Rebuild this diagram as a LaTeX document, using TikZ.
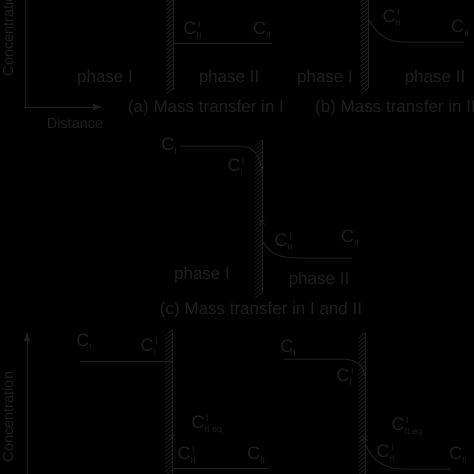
\documentclass[tikz,border=0pt]{standalone}
\usepackage{fontspec}
\setmainfont{Liberation Sans}
\usetikzlibrary{arrows.meta}
\definecolor{ink}{RGB}{30,30,30}
\newcommand{\Clab}[2]{C\rlap{\raisebox{-3.5pt}{\fontsize{9}{9}\selectfont #1}}\raisebox{7pt}{\fontsize{9}{9}\selectfont\,#2}}
\newcommand{\Cs}[1]{C\raisebox{-3.5pt}{\fontsize{9}{9}\selectfont #1}}
\tikzset{
  ln/.style={draw=ink, line width=1pt},
  txt/.style={text=ink, font=\fontsize{17}{17}\selectfont, inner sep=0pt},
  axtxt/.style={text=ink, font=\fontsize{14.5}{14.5}\selectfont, inner sep=0pt},
  clab/.style={text=ink, font=\fontsize{18}{18}\selectfont, inner sep=0pt},
  hatch/.style={draw=ink, line width=0.7pt},
}
\newcommand{\iface}[3]{%
  \draw[ln] (#1,#2) -- (#1,#3);
  \pgfmathtruncatemacro{\ysec}{#2+4}%
  \foreach \yy in {#2,\ysec,...,#3}{\draw[hatch] (#1-7,\yy+6) -- (#1,\yy);}
}
\newcommand{\crossmark}[2]{\draw[ink, line width=0.8pt] (#1-2.5,#2-2.5) -- (#1+2.5,#2+2.5) (#1-2.5,#2+2.5) -- (#1+2.5,#2-2.5);}
\begin{document}
\begin{tikzpicture}[x=1pt,y=-1pt]
\fill[black] (0,0) rectangle (474,474);
\useasboundingbox (0,0) rectangle (474,474);
\begin{scope}
\clip (0,0) rectangle (474,474);
% ---------- (a) ----------
\coordinate (ao) at (25,107);
\coordinate (atop) at (25,-2);
\coordinate (aend) at (102,107);
\draw[ln] (atop) -- (ao);
\draw[ln, -{Latex[length=9pt,width=7pt]}] (ao) -- (aend);
\node[axtxt, rotate=90] (conc1) at (8,31) {Concentration};
\node[axtxt] (dist) at (75,123) {Distance};
\iface{173}{-4}{90}
\coordinate (a1) at (174,43);
\coordinate (a2) at (272,43);
\draw[ln] (a1) -- (a2);
\node[clab] (aCi) at (192,30) {\Clab{II}{I}};
\node[clab] (aC) at (262,30) {\Cs{II}};
\node[txt] (aph1) at (105,78) {phase I};
\node[txt] (aph2) at (229,78) {phase II};
\node[txt] (acap) at (206,108) {(a) Mass transfer in I};
% ---------- (b) ----------
\iface{368}{-4}{88}
\coordinate (b1) at (369,20);
\coordinate (b2) at (405,42);
\coordinate (b3) at (464,42);
\draw[ln] (b1) .. controls (378,36) and (388,42) .. (b2) -- (b3);
\node[clab] (bCi) at (391,18) {\Clab{II}{I}};
\node[clab] (bC) at (460,28) {\Cs{II}};
\node[txt] (bph1) at (325,78) {phase I};
\node[txt] (bph2) at (435,78) {phase II};
\node[txt, anchor=west] (bcap) at (315,108) {(b) Mass transfer in II};
% ---------- (c) ----------
\iface{262}{140}{292}
\coordinate (c1) at (180,146);
\coordinate (c2) at (240,146);
\coordinate (c3) at (262,172);
\draw[ln] (c1) -- (c2) .. controls (254,146) and (260,156) .. (c3);
\coordinate (c4) at (263,242);
\coordinate (c5) at (298,258);
\coordinate (c6) at (352,258);
\draw[ln] (c4) .. controls (270,254) and (280,258) .. (c5) -- (c6);
\crossmark{262}{222}
\node[clab] (cC) at (169,146) {\Cs{I}};
\node[clab] (cCi) at (236,167) {\Clab{I}{I}};
\node[clab] (cCii) at (283,242) {\Clab{II}{I}};
\node[clab] (cCII) at (350,238) {\Cs{II}};
\node[txt] (cph1) at (202,275) {phase I};
\node[txt] (cph2) at (319,280) {phase II};
\node[txt] (ccap) at (261,310) {(c) Mass transfer in I and II};
% ---------- (d) ----------
\coordinate (do) at (27,478);
\coordinate (dtop) at (27,332);
\draw[ln, -{Latex[length=9pt,width=7pt]}] (do) -- (dtop);
\node[axtxt, rotate=90] (conc2) at (8,417) {Concentration};
\iface{172}{330}{478}
\coordinate (d1) at (80,361);
\coordinate (d2) at (172,361);
\draw[ln] (d1) -- (d2);
\coordinate (d3) at (172,468);
\coordinate (d4) at (269,468);
\draw[ln] (d3) -- (d4);
\crossmark{172}{437}
\node[clab] (dC) at (84,342) {\Cs{I}};
\node[clab] (dCi) at (149,347) {\Clab{I}{I}};
\node[clab] (dCeq) at (200,425) {\Clab{II,eq}{I}};
\node[clab] (dCii) at (186,455) {\Clab{II}{I}};
\node[clab] (dCII) at (256,455) {\Cs{II}};
% ---------- (e) ----------
\iface{365}{333}{478}
\coordinate (e1) at (284,359);
\coordinate (e2) at (340,359);
\coordinate (e3) at (365,377);
\draw[ln] (e1) -- (e2) .. controls (356,359) and (363,364) .. (e3);
\coordinate (e4) at (366,445);
\coordinate (e5) at (405,469);
\coordinate (e6) at (450,469);
\draw[ln] (e4) .. controls (372,461) and (385,469) .. (e5) -- (e6);
\crossmark{365}{438}
\node[clab] (eC) at (288,348) {\Cs{I}};
\node[clab] (eCi) at (345,377) {\Clab{I}{I}};
\node[clab] (eCeq) at (400,427) {\Clab{II,eq}{I}};
\node[clab] (eCii) at (385,453) {\Clab{II}{I}};
\node[clab] (eCII) at (458,455) {\Cs{II}};
\end{scope}
\end{tikzpicture}
\end{document}
